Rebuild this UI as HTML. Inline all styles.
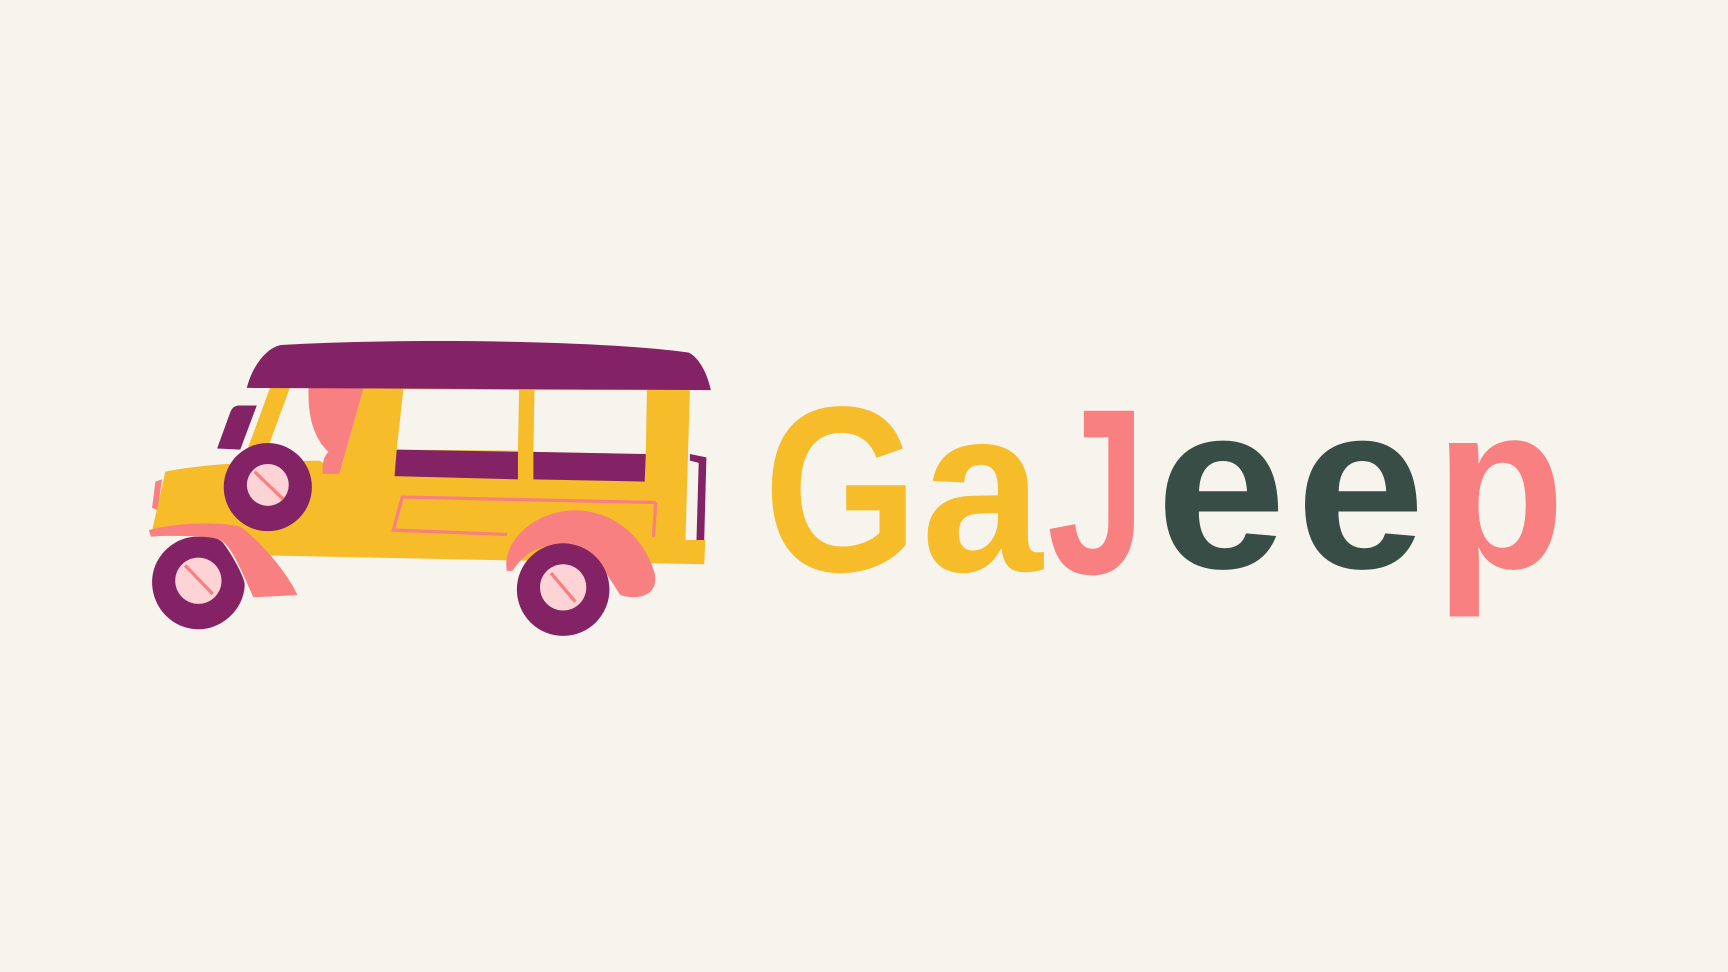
<!DOCTYPE html>
<html><head><meta charset="utf-8"><style>
html,body{margin:0;padding:0;background:#F7F4EE;}
svg{display:block;}
text{font-family:"Liberation Sans",sans-serif;font-weight:bold;}
</style></head><body>
<svg width="1728" height="972" viewBox="0 0 1568 882" xmlns="http://www.w3.org/2000/svg">
<rect width="1568" height="882" fill="#F7F4EE"/>
<g>
  <path d="M141,437 L147,435 L143,463 L138,461 Z" fill="#F98080"/>
  <path d="M137,486 L150,428 C180,422 220,419 290,418 L308,430 L330,352 L626,354 L622,490 L640,490 L639,512 L240,504 L220,487 Z" fill="#F6BC2A"/>
  <path d="M245,352 L263,352 L238,420 L220,420 Z" fill="#F6BC2A"/>
  <path d="M366,353 L471,354 L470,409 L360,408 Z" fill="#F7F4EE"/>
  <path d="M485,354 L587,354 L586,412 L484,410 Z" fill="#F7F4EE"/>
  <path d="M360,408 L470,410 L470,435 L358,432 Z" fill="#832366"/>
  <path d="M484,410 L586,412 L585,437 L484,435 Z" fill="#832366"/>
  <path d="M626,412 L641,415 L639,490 L632,490 L634,420 L626,418 Z" fill="#832366"/>
  <path d="M280,352 L330,352 L308,430 L293,430 C292,420 294,414 298,410 C285,398 279,378 280,352 Z" fill="#F98080"/>
  <path d="M595,456 L365,451 L357,481 L460,485 M595,456 L593,487" stroke="#F98080" stroke-width="3" fill="none"/>
  <path d="M224,352 C228,335 240,316 255,313 C380,306 560,310 625,320 C635,325 642,340 645,354 Z" fill="#832366"/>
  <path d="M197,407 L209,374 C211,369 214,368 218,368 L233,368 L218,408 Z" fill="#832366"/>
  <g>
    <circle cx="243" cy="442" r="40" fill="#832366"/>
    <circle cx="243" cy="440" r="19" fill="#FDD3D6"/>
    <path d="M231,428 L257,453" stroke="#F98080" stroke-width="3"/>
  </g>
  <path d="M137,487 L135,481 C160,474 200,473 218,478 C238,492 262,522 270,540 L230,542 C220,520 210,495 200,490 C180,485 150,486 137,487 Z" fill="#F98080"/>
  <g>
    <path d="M138,528 C138,505 158,487 178,487 C190,487 198,488 202,492 C212,505 222,525 222,530 C222,552 202,571 180,571 C157,571 138,552 138,528 Z" fill="#832366"/>
    <circle cx="180" cy="527" r="21" fill="#FDD3D6"/>
    <path d="M168,513 L193,539" stroke="#F98080" stroke-width="3"/>
  </g>
  <path d="M460,518 C455,495 480,465 520,463 C560,463 585,490 594,520 C598,540 580,545 563,540 C550,520 540,500 510,495 C480,493 470,512 465,518 Z" fill="#F98080"/>
  <g>
    <circle cx="511" cy="535" r="42" fill="#832366"/>
    <circle cx="511" cy="533" r="21" fill="#FDD3D6"/>
    <path d="M500,520 L522,546" stroke="#F98080" stroke-width="3"/>
  </g>
</g>
<g font-size="214">
  <text x="693" y="518" fill="#F6BC2A" textLength="140" lengthAdjust="spacingAndGlyphs">G</text>
  <text x="836" y="518" fill="#F6BC2A" textLength="110" lengthAdjust="spacingAndGlyphs">a</text>
  <text x="950" y="520" fill="#F98080" textLength="90" lengthAdjust="spacingAndGlyphs">J</text>
  <text x="1049" y="515" fill="#374D45" textLength="118" lengthAdjust="spacingAndGlyphs">e</text>
  <text x="1176" y="515" fill="#374D45" textLength="117" lengthAdjust="spacingAndGlyphs">e</text>
  <text x="1302" y="515" fill="#F98080" textLength="118" lengthAdjust="spacingAndGlyphs">p</text>
</g>
</svg>
</body></html>
